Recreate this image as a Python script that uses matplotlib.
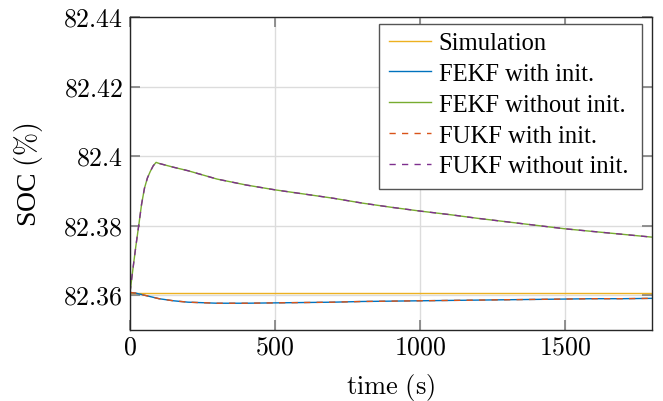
import matplotlib
matplotlib.use("Agg")
import matplotlib.pyplot as plt
from matplotlib.patches import Rectangle
from matplotlib.ticker import FuncFormatter

plt.rcParams["mathtext.fontset"] = "cm"
plt.rcParams["font.family"] = ["Liberation Serif", "DejaVu Serif"]

# time samples (s)
t = [0, 10, 20, 30, 40, 50, 60, 70, 80, 90, 100, 150, 200, 300, 400, 500,
     600, 700, 800, 900, 1000, 1100, 1200, 1300, 1400, 1500, 1600, 1700, 1800]

sim_t = [0, 1800]
sim_soc = [82.3607, 82.3607]

fekf_init = [82.3608, 82.3607, 82.3606, 82.3604, 82.3602, 82.3600, 82.3598,
             82.3596, 82.3594, 82.3592, 82.3590, 82.3584, 82.3580, 82.3577,
             82.3577, 82.3578, 82.3579, 82.3580, 82.3582, 82.3583, 82.3584,
             82.3585, 82.3586, 82.3587, 82.3588, 82.3589, 82.3590, 82.3590,
             82.3591]

fekf_noinit = [82.3608, 82.3675, 82.3740, 82.3800, 82.3862, 82.3908, 82.3937,
               82.3956, 82.3972, 82.3982, 82.3979, 82.3968, 82.3958, 82.3934,
               82.3917, 82.3903, 82.3891, 82.3879, 82.3865, 82.3853, 82.3842,
               82.3832, 82.3821, 82.3811, 82.3801, 82.3791, 82.3783, 82.3775,
               82.3767]

fukf_init = [82.3608, 82.3607, 82.3606, 82.3604, 82.3602, 82.3600, 82.3598,
             82.3596, 82.3594, 82.3592, 82.3590, 82.3584, 82.3580, 82.3577,
             82.3577, 82.3578, 82.3579, 82.3580, 82.3582, 82.3583, 82.3584,
             82.3585, 82.3586, 82.3587, 82.3588, 82.3589, 82.3590, 82.3590,
             82.3591]

fukf_noinit = [82.3608, 82.3675, 82.3740, 82.3800, 82.3862, 82.3908, 82.3937,
               82.3956, 82.3972, 82.3982, 82.3979, 82.3968, 82.3958, 82.3934,
               82.3917, 82.3903, 82.3891, 82.3879, 82.3865, 82.3853, 82.3842,
               82.3832, 82.3821, 82.3811, 82.3801, 82.3791, 82.3783, 82.3775,
               82.3767]

x_ticks = [0, 500, 1000, 1500]
y_ticks = [82.36, 82.38, 82.40, 82.42, 82.44]

W, H = 663, 402
fig = plt.figure(figsize=(W / 100, H / 100), dpi=100)
ax = fig.add_axes([130 / W, 1 - 331 / H, 522 / W, 313 / H])

dash = (0, (4.5, 4.5))
ax.plot(sim_t, sim_soc, color="#EDB120", lw=1.0, label="Simulation")
ax.plot(t, fekf_init, color="#0072BD", lw=1.0, label="FEKF with init.")
ax.plot(t, fekf_noinit, color="#77AC30", lw=1.0, label="FEKF without init.")
ax.plot(t, fukf_init, color="#D95319", lw=1.0, ls=dash, label="FUKF with init.")
ax.plot(t, fukf_noinit, color="#7E2F8E", lw=1.0, ls=dash, label="FUKF without init.")

ax.set_xlim(0, 1800)
ax.set_ylim(82.35, 82.44)
ax.set_xticks(x_ticks)
ax.set_yticks(y_ticks)
fmt = FuncFormatter(lambda v, p: f"${v:g}$")
ax.xaxis.set_major_formatter(fmt)
ax.yaxis.set_major_formatter(fmt)
ax.tick_params(direction="in", length=7, width=1.2, color="#7f7f7f",
               top=True, right=True, labelsize=18.6, pad=5)
ax.grid(True, color="#dcdcdc", lw=1.0)
ax.set_axisbelow(True)
for s in ax.spines.values():
    s.set_color("#262626")
    s.set_linewidth(1.0)

ax.set_xlabel(r"$\mathrm{time}\ (\mathrm{s})$", fontsize=19, labelpad=9)
ax.set_ylabel(r"SOC $(\%)$", fontsize=20, labelpad=13)

# legend box drawn by hand (pgfplots-like padding)
box = Rectangle((379 / W, 1 - 190 / H), 263 / W, 165 / H, transform=fig.transFigure,
                facecolor="white", edgecolor="#555555", lw=1.0, zorder=4.9)
ax.add_artist(box)
leg = ax.legend(loc="upper left", bbox_to_anchor=(389 / W, 1 - 33 / H),
                bbox_transform=fig.transFigure, fontsize=17.7, frameon=False,
                handlelength=1.7, handletextpad=0.32, labelspacing=0.35,
                borderpad=0, borderaxespad=0)

fig.savefig("out.png", dpi=100)
